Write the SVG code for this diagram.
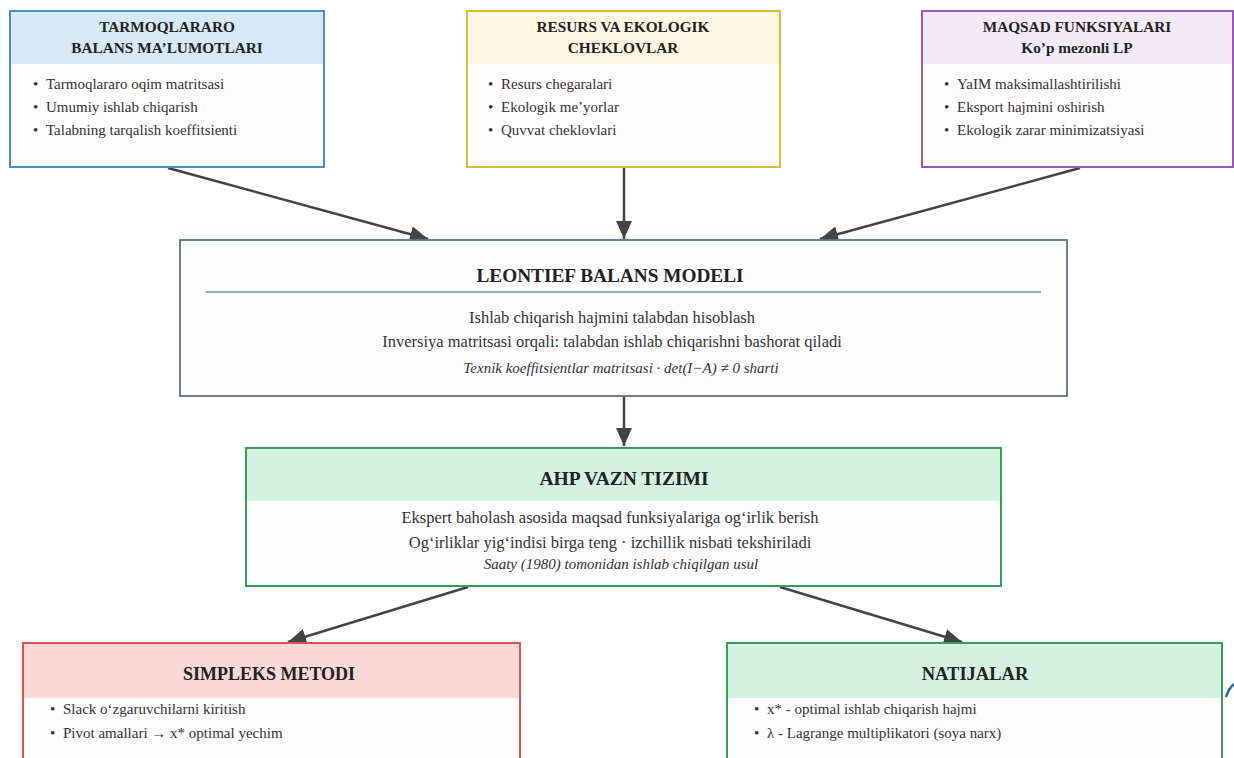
<svg xmlns="http://www.w3.org/2000/svg" width="1234" height="758" viewBox="0 0 1234 758">
<style>
.t{font-family:"Liberation Serif","Times New Roman",serif;fill:#222;font-weight:bold;text-anchor:middle}
.b{font-family:"Liberation Serif","Times New Roman",serif;fill:#333;font-size:15px}
.c{font-family:"Liberation Serif","Times New Roman",serif;fill:#333;font-size:16.5px;text-anchor:middle}
.i{font-family:"Liberation Serif","Times New Roman",serif;fill:#333;font-size:15px;font-style:italic;text-anchor:middle}
.conn{stroke:#444;stroke-width:2.5;fill:none;marker-end:url(#ah)}
</style>
<defs>
<marker id="ah" markerUnits="userSpaceOnUse" markerWidth="20" markerHeight="16" refX="18" refY="8" orient="auto">
<path d="M0,0 L18,8 L0,16 Z" fill="#444"/>
</marker>
</defs>
<rect width="1234" height="758" fill="#fff"/>

<g id="connectors">
<line class="conn" x1="168" y1="168" x2="428" y2="239"/>
<line class="conn" x1="624" y1="168" x2="624" y2="239"/>
<line class="conn" x1="1080" y1="168" x2="820" y2="239"/>
<line class="conn" x1="624" y1="397" x2="624" y2="446"/>
<line class="conn" x1="468" y1="587" x2="288" y2="642"/>
<line class="conn" x1="780" y1="587" x2="962" y2="642"/>
</g>

<g id="tarmoqlararo">
<rect x="10" y="11" width="314" height="156" fill="#fdfdfd" stroke="#4a90c8" stroke-width="2"/>
<rect x="11" y="12" width="312" height="52" fill="#d6e9f7"/>
<text class="t" x="167" y="32" font-size="15.3">TARMOQLARARO</text>
<text class="t" x="167" y="53" font-size="15.3">BALANS MA’LUMOTLARI</text>
<text class="b" x="33" y="89">•</text><text class="b" x="46" y="89">Tarmoqlararo oqim matritsasi</text>
<text class="b" x="33" y="112">•</text><text class="b" x="46" y="112">Umumiy ishlab chiqarish</text>
<text class="b" x="33" y="135">•</text><text class="b" x="46" y="135">Talabning tarqalish koeffitsienti</text>
</g>

<g id="resurs">
<rect x="467" y="11" width="313" height="156" fill="#fdfdfd" stroke="#e0b83a" stroke-width="2"/>
<rect x="468" y="12" width="311" height="52" fill="#fdf6e3"/>
<text class="t" x="623" y="32" font-size="15.3">RESURS VA EKOLOGIK</text>
<text class="t" x="623" y="53" font-size="15.3">CHEKLOVLAR</text>
<text class="b" x="488" y="89">•</text><text class="b" x="501" y="89">Resurs chegaralari</text>
<text class="b" x="488" y="112">•</text><text class="b" x="501" y="112">Ekologik me’yorlar</text>
<text class="b" x="488" y="135">•</text><text class="b" x="501" y="135">Quvvat cheklovlari</text>
</g>

<g id="maqsad">
<rect x="922" y="11" width="311" height="156" fill="#fdfdfd" stroke="#9b59b6" stroke-width="2"/>
<rect x="923" y="12" width="309" height="52" fill="#f3eaf7"/>
<text class="t" x="1077" y="32" font-size="15.3">MAQSAD FUNKSIYALARI</text>
<text class="t" x="1077" y="53" font-size="15.3">Ko’p mezonli LP</text>
<text class="b" x="944" y="89">•</text><text class="b" x="957" y="89">YaIM maksimallashtirilishi</text>
<text class="b" x="944" y="112">•</text><text class="b" x="957" y="112">Eksport hajmini oshirish</text>
<text class="b" x="944" y="135">•</text><text class="b" x="957" y="135">Ekologik zarar minimizatsiyasi</text>
</g>

<g id="leontief">
<rect x="180" y="240" width="887" height="156" fill="#fdfdfd" stroke="#5a7191" stroke-width="1.8"/>
<text class="t" x="610" y="282" font-size="19.3">LEONTIEF BALANS MODELI</text>
<line x1="206" y1="292" x2="1041" y2="292" stroke="#6a8cb0" stroke-width="1.5"/>
<text class="c" x="612" y="323">Ishlab chiqarish hajmini talabdan hisoblash</text>
<text class="c" x="612" y="347">Inversiya matritsasi orqali: talabdan ishlab chiqarishni bashorat qiladi</text>
<text class="i" x="621" y="373">Texnik koeffitsientlar matritsasi · det(I−A) ≠ 0 sharti</text>
</g>

<g id="ahp">
<rect x="246" y="448" width="755" height="138" fill="#fdfdfd" stroke="#3a9a5a" stroke-width="2"/>
<rect x="247" y="449" width="753" height="52" fill="#d4f2e0"/>
<text class="t" x="624" y="485" font-size="19.5">AHP VAZN TIZIMI</text>
<text class="c" x="610" y="523">Ekspert baholash asosida maqsad funksiyalariga og‘irlik berish</text>
<text class="c" x="610" y="548">Og‘irliklar yig‘indisi birga teng · izchillik nisbati tekshiriladi</text>
<text class="i" x="621" y="569">Saaty (1980) tomonidan ishlab chiqilgan usul</text>
</g>

<g id="simpleks">
<rect x="23" y="643" width="497" height="130" fill="#fdfdfd" stroke="#d9534f" stroke-width="2"/>
<rect x="24" y="644" width="495" height="54" fill="#f8d9d6"/>
<text class="t" x="269" y="680" font-size="18">SIMPLEKS METODI</text>
<text class="b" x="50" y="714">•</text><text class="b" x="63" y="714">Slack o‘zgaruvchilarni kiritish</text>
<text class="b" x="50" y="738">•</text><text class="b" x="63" y="738">Pivot amallari → x* optimal yechim</text>
</g>

<g id="natijalar">
<rect x="727" y="643" width="495" height="130" fill="#fdfdfd" stroke="#3a9a5a" stroke-width="2"/>
<rect x="728" y="644" width="493" height="54" fill="#d4f2e0"/>
<text class="t" x="975" y="680" font-size="18.5">NATIJALAR</text>
<text class="b" x="754" y="714">•</text><text class="b" x="767" y="714">x* - optimal ishlab chiqarish hajmi</text>
<text class="b" x="754" y="738">•</text><text class="b" x="767" y="738">λ - Lagrange multiplikatori (soya narx)</text>
</g>

<path d="M1226,697 Q1229,688 1234,684" stroke="#2a6ea8" stroke-width="2.5" fill="none"/>
</svg>
